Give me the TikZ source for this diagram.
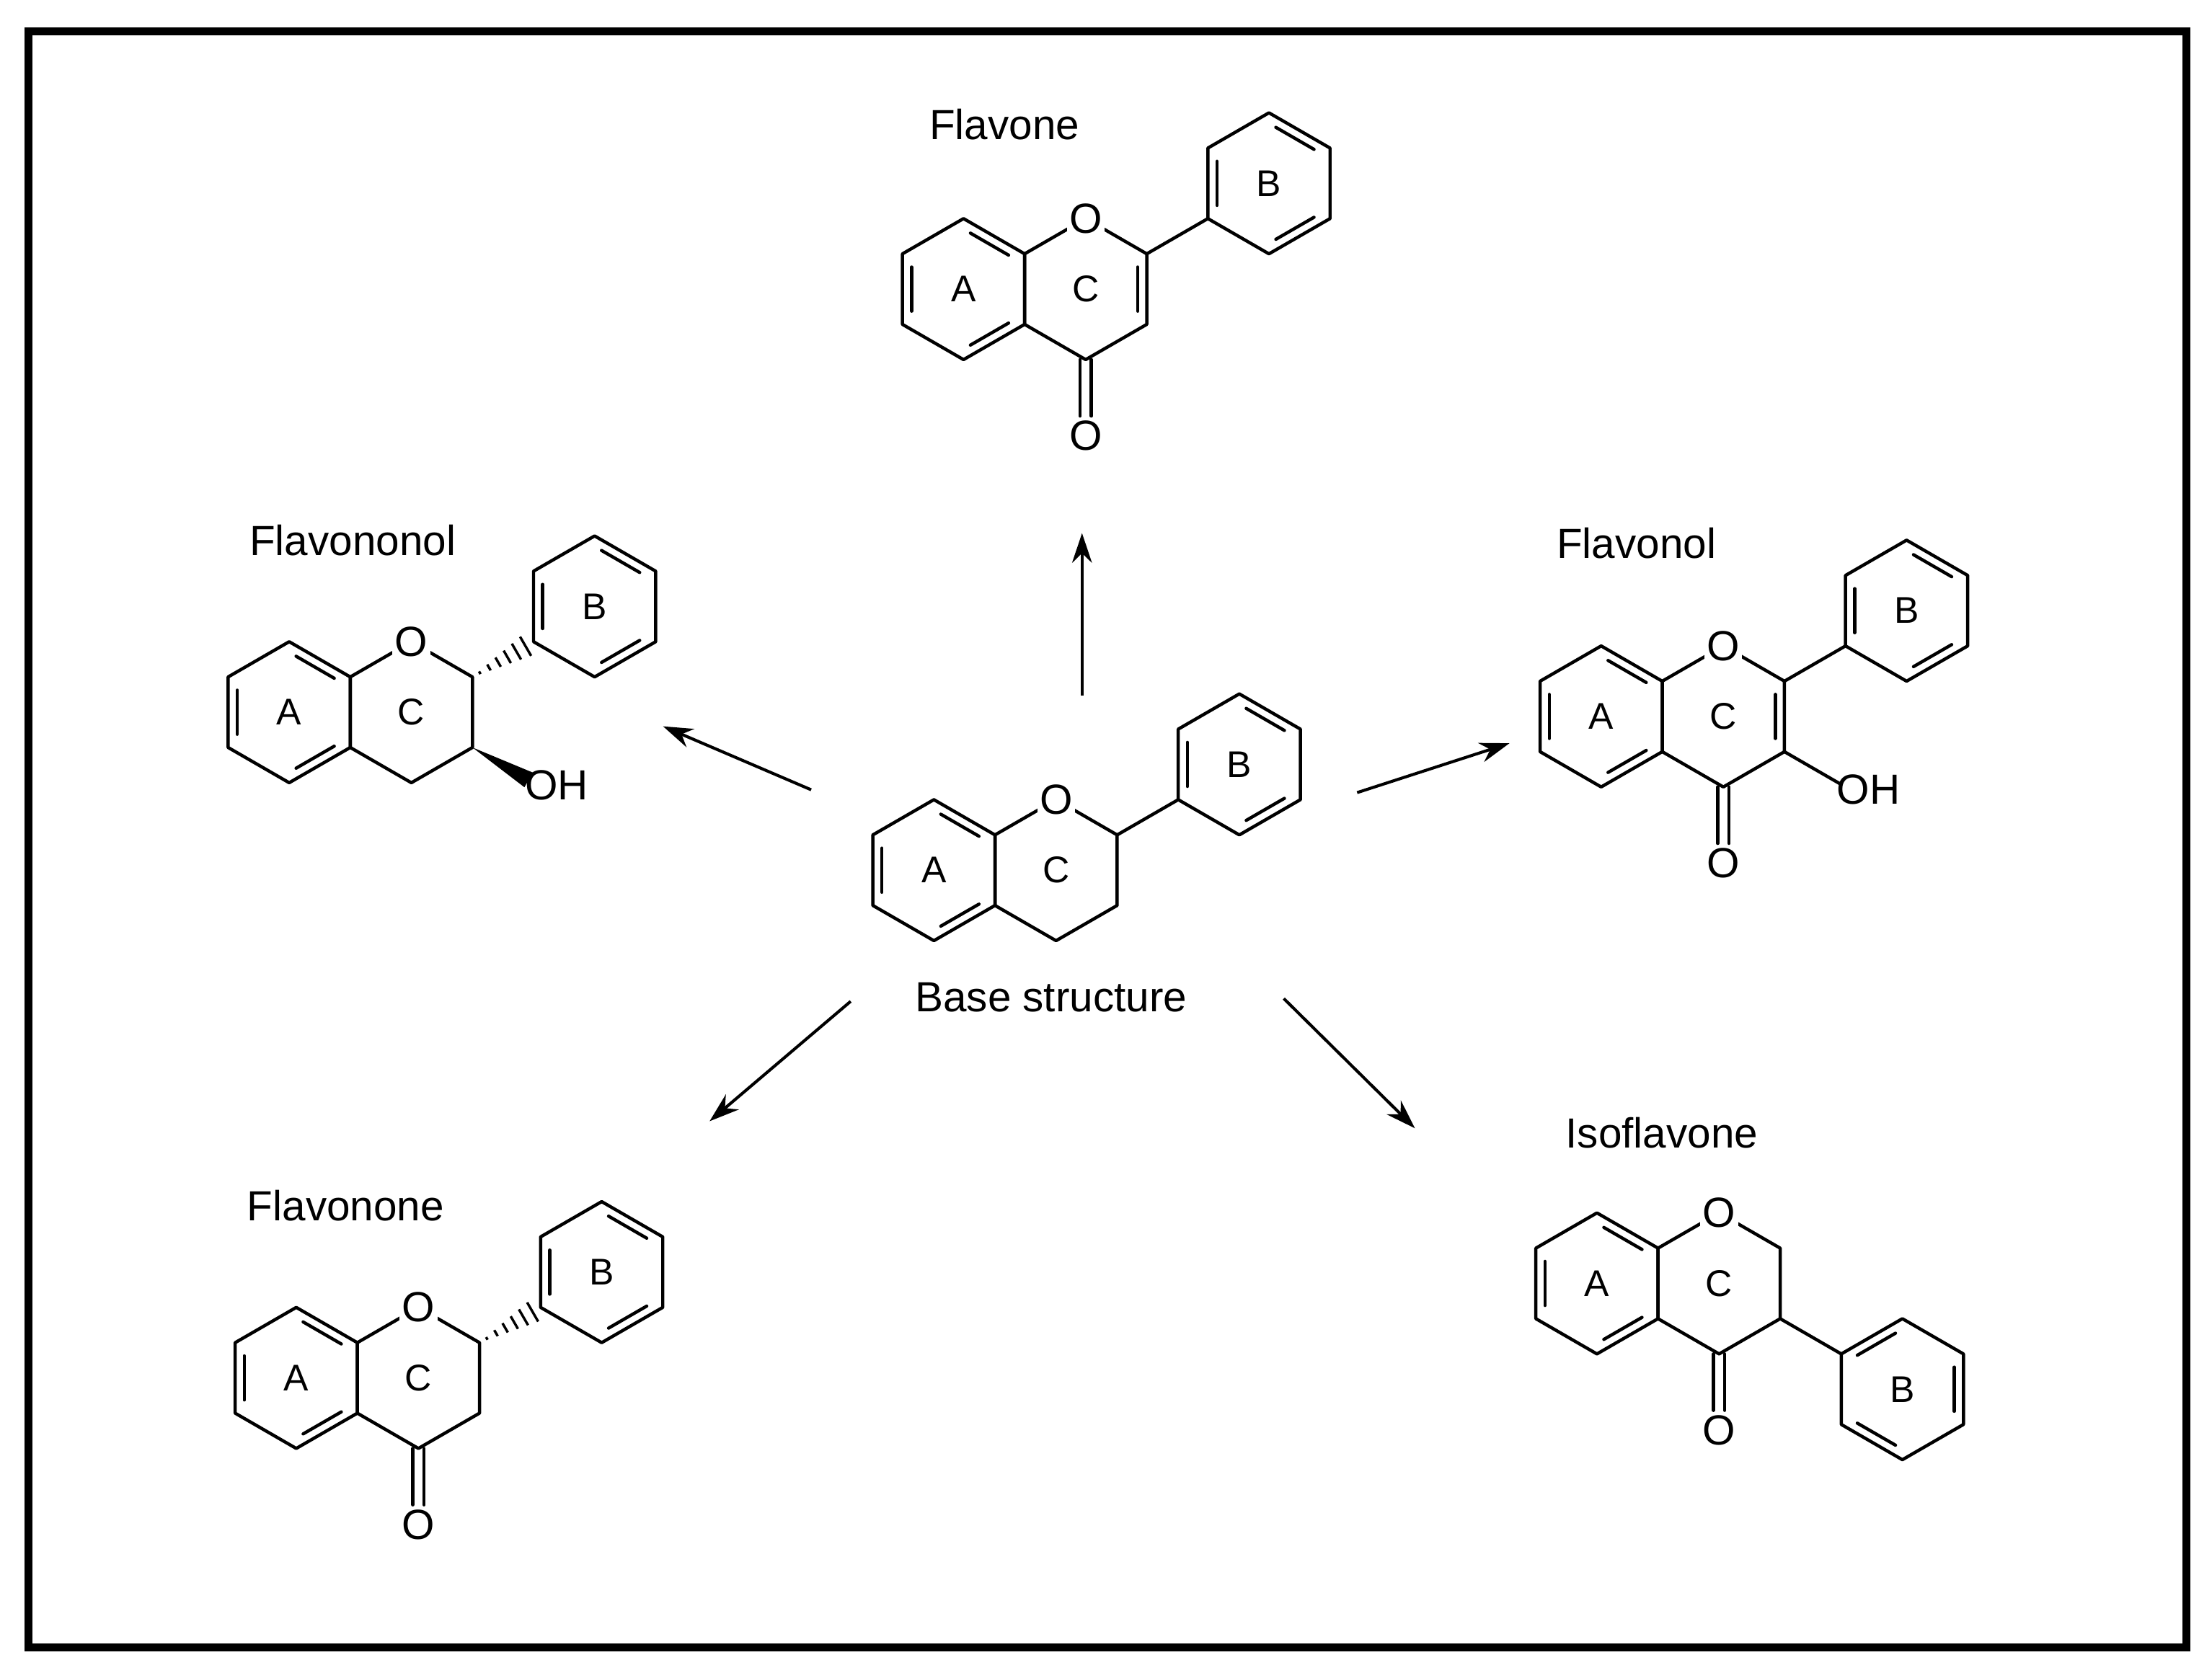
\documentclass[tikz,border=0pt]{standalone}
\usepackage{fontspec}
\setmainfont{Liberation Sans}
\usetikzlibrary{calc,arrows.meta}
\begin{document}
\begin{tikzpicture}[x=0.02cm,y=0.02cm,
  bond/.style={line width=1.3pt,line join=round,line cap=round},
  atom/.style={fill=white,inner sep=1pt,font=\fontsize{17}{20}\selectfont},
  ring/.style={inner sep=0pt,font=\fontsize{15}{18}\selectfont},
  title/.style={font=\fontsize{17}{20}\selectfont},
  arr/.style={line width=1.2pt,-{Stealth[length=12pt,width=8pt]}}]
\useasboundingbox (0,0) rectangle (1568,1186);
\draw[line width=3.2pt] (20,18) rectangle (1550,1164);
\newcommand\hexa[1]{\draw[bond,shift={(#1)}] (30:50)--(90:50)--(150:50)--(210:50)--(270:50)--(330:50)--cycle;}
\newcommand\arom[2]{\foreach \a in {#2,#2+120,#2+240} \draw[bond,shift={(#1)}] (\a+7:40)--(\a+53:40);}
\newcommand\chrom[3]{%
  \coordinate (#1A) at (#2,#3);
  \coordinate (#1C) at ($(#1A)+(86.6,0)$);
  \coordinate (#1C2) at ($(#1C)+(30:50)$);
  \coordinate (#1C3) at ($(#1C)+(330:50)$);
  \coordinate (#1C4) at ($(#1C)+(270:50)$);
  \hexa{#1A}\arom{#1A}{30}\hexa{#1C}
  \node[atom] (#1O) at ($(#1C)+(90:50)$) {O};
  \node[ring] at (#1A) {A};
  \node[ring] at (#1C) {C};}
\newcommand\phen[3]{% prefix, from, dir
  \coordinate (#1i) at ($(#2)+(#3:50)$);
  \coordinate (#1B) at ($(#2)+(#3:100)$);
  \hexa{#1B}\arom{#1B}{#3+240}
  \node[ring] at (#1B) {B};}
\newcommand\hash[2]{\foreach \t in {0.12,0.27,...,0.95}
  \draw[line width=1pt] ($(#1)!\t!(#2)+(120:{9*\t})$)--($(#1)!\t!(#2)+(300:{9*\t})$);}
\newcommand\keto[1]{%
  \draw[bond] ($(#1C4)+(-4,0)$)--++(0,-40);
  \draw[bond] ($(#1C4)+(4,0)$)--++(0,-40);
  \node[atom,fill=none] (#1ko) at ($(#1C4)+(0,-54)$) {O};}
% Flavone
\chrom{fa}{683}{981}
\phen{faP}{faC2}{30}
\draw[bond] (faC2)--(faPi);
\draw[bond,shift={(faC)}] (337:40)--(23:40);
\keto{fa}
\node[title] at (712,1098) {Flavone};
% Flavonol
\chrom{fl}{1135}{678}
\phen{flP}{flC2}{30}
\draw[bond] (flC2)--(flPi);
\draw[bond,shift={(flC)}] (337:40)--(23:40);
\keto{fl}
\coordinate (flE) at ($(flC3)+(-30:46)$);
\draw[bond] (flC3)--(flE);
\node[atom,fill=none,anchor=west,inner sep=0pt] (flOH) at ($(flE)+(-3,-4)$) {OH};
\node[title] at (1160,801) {Flavonol};
% Flavononol
\chrom{fn}{205}{681}
\phen{fnP}{fnC2}{30}
\hash{fnC2}{fnPi}
\coordinate (fnE) at ($(fnC3)+(-30:46)$);
\fill ($(fnC3)$)--($(fnE)+(60:6)$)--($(fnE)+(240:6)$)--cycle;
\node[atom,fill=none,anchor=west,inner sep=0pt] (fnOH) at ($(fnE)+(-3,-4)$) {OH};
\node[title] at (250,803) {Flavononol};
% Base
\chrom{bs}{662}{569}
\phen{bsP}{bsC2}{30}
\draw[bond] (bsC2)--(bsPi);
\node[title] (bsl) at (745,479) {Base structure};
% Flavonone
\chrom{fo}{210}{209}
\phen{foP}{foC2}{30}
\hash{foC2}{foPi}
\keto{fo}
\node[title] at (245,331) {Flavonone};
% Isoflavone
\chrom{is}{1132}{276}
\phen{isP}{isC3}{-30}
\draw[bond] (isC3)--(isPi);
\keto{is}
\node[title] at (1178,383) {Isoflavone};
% arrows
\coordinate (u0) at (767,693); \coordinate (u1) at (767,808);
\coordinate (l0) at (575,626); \coordinate (l1) at (470,671);
\coordinate (r0) at (962,624); \coordinate (r1) at (1070,659);
\coordinate (d0) at (603,476); \coordinate (d1) at (503,391);
\coordinate (e0) at (910,478); \coordinate (e1) at (1003,386);
\draw[arr] (u0)--(u1);
\draw[arr] (l0)--(l1);
\draw[arr] (r0)--(r1);
\draw[arr] (d0)--(d1);
\draw[arr] (e0)--(e1);
\end{tikzpicture}
\end{document}
